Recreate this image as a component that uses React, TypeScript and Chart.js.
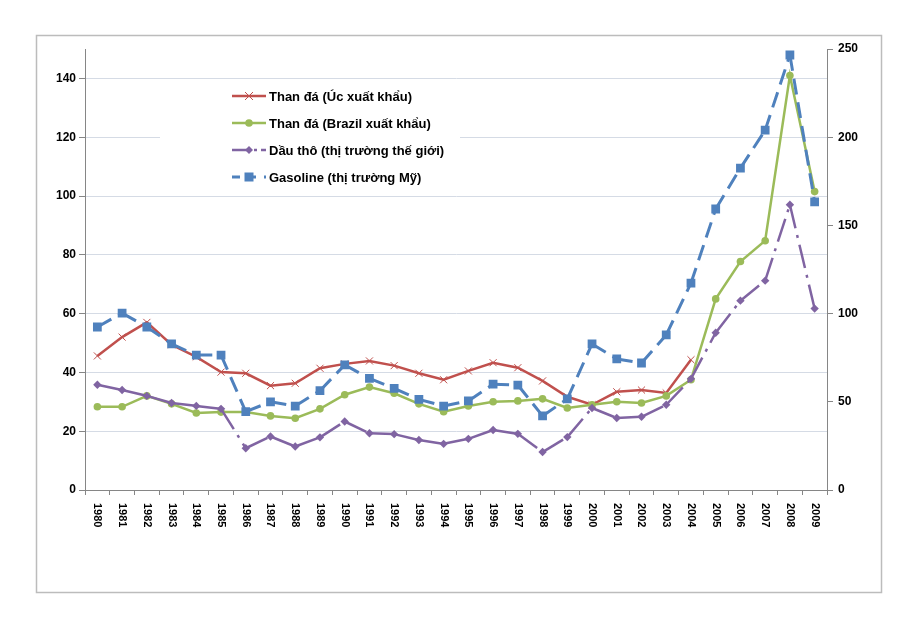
import { useEffect, useRef } from "react";
import { Chart, registerables } from "chart.js";

Chart.register(...registerables);

const years = [
  "1980", "1981", "1982", "1983", "1984", "1985", "1986", "1987", "1988", "1989",
  "1990", "1991", "1992", "1993", "1994", "1995", "1996", "1997", "1998", "1999",
  "2000", "2001", "2002", "2003", "2004", "2005", "2006", "2007", "2008", "2009",
];

// Than đá (Úc xuất khẩu) - left axis
const coalAus = [
  45.6, 52, 57, 49.4, 45.3, 40.1, 39.7, 35.5, 36.3, 41.4,
  42.9, 43.9, 42.3, 39.7, 37.5, 40.5, 43.3, 41.6, 37.1, 31.7,
  29, 33.4, 34, 33, 44.3, null, null, null, null, null,
];

// Than đá (Brazil xuất khẩu) - left axis
const coalBrazil = [
  28.3, 28.3, 32, 29.3, 26.2, 26.5, 26.5, 25.2, 24.4, 27.6,
  32.4, 35, 32.9, 29.3, 26.6, 28.6, 30, 30.3, 31, 27.9,
  29, 30, 29.6, 32, 37.5, 65, 77.7, 84.8, 141, 101.5,
];

// Dầu thô (thị trường thế giới) - left axis
const crudeOil = [
  35.8, 34, 32, 29.6, 28.6, 27.6, 14.2, 18.2, 14.8, 17.9,
  23.3, 19.3, 19, 17, 15.7, 17.4, 20.4, 19.1, 12.9, 18,
  27.9, 24.5, 24.9, 29, 37.8, 53.5, 64.4, 71.2, 97, 61.7,
];

// Gasoline (thị trường Mỹ) - right axis
const gasoline = [
  92.4, 100.3, 92.4, 82.8, 76.5, 76.5, 44.4, 50, 47.6, 56.3,
  70.9, 63.3, 57.6, 51.4, 47.6, 50.5, 60, 59.5, 42, 51.6,
  82.8, 74.3, 72, 87.9, 117.3, 159.3, 182.5, 204, 246.6, 163.3,
];

const seriesNames = [
  "Than đá (Úc xuất khẩu)",
  "Than đá (Brazil xuất khẩu)",
  "Dầu thô (thị trường thế giới)",
  "Gasoline (thị trường Mỹ)",
];

const RED = "#c0504d";
const GREEN = "#9bbb59";
const PURPLE = "#8064a2";
const BLUE = "#4f81bd";
const AXIS = "#868686";
const GRID = "#d5dbe5";

// restart the dash pattern at every point, like the original
const restartDash = {
  borderDashOffset: (c: any) => (c.p0DataIndex % 2 ? 0.01 : 0),
};

const frameAndLabels = {
  id: "frameAndLabels",
  beforeDraw(chart: any) {
    const ctx = chart.ctx;
    ctx.save();
    ctx.fillStyle = "#ffffff";
    ctx.fillRect(0, 0, chart.width, chart.height);
    ctx.strokeStyle = "#bcbcbc";
    ctx.lineWidth = 1.5;
    ctx.strokeRect(36.5, 35.5, 845, 557);
    ctx.restore();
  },
  afterDraw(chart: any) {
    const ctx = chart.ctx;
    const xs = chart.scales.x;
    const area = chart.chartArea;
    ctx.save();
    // rotated year labels
    ctx.fillStyle = "#000";
    ctx.font = "bold 11px 'Liberation Sans', Arial, sans-serif";
    ctx.textAlign = "left";
    ctx.textBaseline = "middle";
    years.forEach((y, i) => {
      const px = xs.getPixelForValue(i);
      ctx.save();
      ctx.translate(px, area.bottom + 13);
      ctx.rotate(Math.PI / 2);
      ctx.fillText(y, 0, 0);
      ctx.restore();
    });

    // legend
    const lx = 160;
    const ly = 82;
    ctx.fillStyle = "#ffffff";
    ctx.fillRect(lx, ly, 300, 110);
    const styles = [
      { color: RED, dash: [], marker: "x" },
      { color: GREEN, dash: [], marker: "circle" },
      { color: PURPLE, dash: [18, 4, 3, 4, 6, 10], marker: "diamond" },
      { color: BLUE, dash: [8, 8], marker: "square" },
    ];
    styles.forEach((s, i) => {
      const yy = 96 + i * 27;
      ctx.strokeStyle = s.color;
      ctx.lineWidth = s.marker === "square" ? 3 : 2.5;
      ctx.setLineDash(s.dash);
      ctx.beginPath();
      ctx.moveTo(232, yy);
      ctx.lineTo(266, yy);
      ctx.stroke();
      ctx.setLineDash([]);
      const cx = 249;
      ctx.fillStyle = s.color;
      if (s.marker === "x") {
        ctx.lineWidth = 1;
        ctx.beginPath();
        ctx.moveTo(cx - 4, yy - 4);
        ctx.lineTo(cx + 4, yy + 4);
        ctx.moveTo(cx - 4, yy + 4);
        ctx.lineTo(cx + 4, yy - 4);
        ctx.stroke();
      } else if (s.marker === "circle") {
        ctx.beginPath();
        ctx.arc(cx, yy, 3.8, 0, Math.PI * 2);
        ctx.fill();
      } else if (s.marker === "diamond") {
        ctx.beginPath();
        ctx.moveTo(cx, yy - 4);
        ctx.lineTo(cx + 4, yy);
        ctx.lineTo(cx, yy + 4);
        ctx.lineTo(cx - 4, yy);
        ctx.closePath();
        ctx.fill();
      } else {
        ctx.fillRect(cx - 4.5, yy - 4.5, 9, 9);
      }
      ctx.fillStyle = "#000";
      ctx.font = "bold 13px 'Liberation Sans', Arial, sans-serif";
      ctx.textAlign = "left";
      ctx.textBaseline = "middle";
      ctx.fillText(seriesNames[i], 269, yy + 1);
    });
    ctx.restore();
  },
};

const App: React.FC = () => {
  const chartRef = useRef<HTMLCanvasElement>(null);

  useEffect(() => {
    if (!chartRef.current) return;
    const ctx = chartRef.current.getContext("2d");
    if (!ctx) return;

    const tickFont = { family: "'Liberation Sans', Arial, sans-serif", size: 12, weight: "bold" as const };

    const chart = new Chart(ctx, {
      type: "line",
      data: {
        labels: years,
        datasets: [
          {
            label: seriesNames[0],
            data: coalAus,
            yAxisID: "y",
            borderColor: RED,
            backgroundColor: RED,
            borderWidth: 2.5,
            pointStyle: "crossRot",
            pointRadius: 5,
            pointBorderWidth: 1,
            order: 4,
          },
          {
            label: seriesNames[1],
            data: coalBrazil,
            yAxisID: "y",
            borderColor: GREEN,
            backgroundColor: GREEN,
            borderWidth: 2.5,
            pointStyle: "circle",
            pointRadius: 3.8,
            pointBorderWidth: 0,
            order: 3,
          },
          {
            label: seriesNames[2],
            data: crudeOil,
            yAxisID: "y",
            borderColor: PURPLE,
            backgroundColor: PURPLE,
            borderWidth: 2.5,
            borderDash: [24, 7, 3, 7],
            segment: restartDash,
            pointStyle: "rectRot",
            pointRadius: 4.2,
            pointBorderWidth: 0,
            order: 2,
          },
          {
            label: seriesNames[3],
            data: gasoline,
            yAxisID: "y1",
            borderColor: BLUE,
            backgroundColor: BLUE,
            borderWidth: 3,
            borderDash: [16, 8],
            segment: restartDash,
            pointStyle: "rect",
            pointRadius: 6.2,
            pointBorderWidth: 0,
            order: 1,
          },
        ],
      },
      options: {
        animation: false,
        responsive: true,
        maintainAspectRatio: false,
        layout: { padding: { left: 40, right: 40, top: 49, bottom: 0 } },
        plugins: {
          legend: { display: false },
          tooltip: { enabled: false },
        },
        scales: {
          x: {
            offset: true,
            ticks: { display: false },
            grid: {
              offset: true,
              drawOnChartArea: false,
              drawTicks: true,
              tickLength: 5,
              tickColor: AXIS,
            },
            border: { color: AXIS, width: 1 },
            afterFit: (s: any) => {
              s.height = 145;
            },
          },
          y: {
            position: "left",
            min: 0,
            max: 150,
            ticks: {
              stepSize: 20,
              includeBounds: false,
              color: "#000",
              font: tickFont,
              padding: 3,
            },
            grid: {
              color: GRID,
              lineWidth: 1,
              tickLength: 6,
              tickColor: AXIS,
              drawTicks: true,
            },
            border: { color: AXIS, width: 1 },
            afterFit: (s: any) => {
              s.width = 45;
            },
          },
          y1: {
            position: "right",
            min: 0,
            max: 250,
            ticks: {
              stepSize: 50,
              color: "#000",
              font: tickFont,
              padding: 5,
            },
            grid: {
              drawOnChartArea: false,
              tickLength: 6,
              tickColor: AXIS,
            },
            border: { color: AXIS, width: 1 },
            afterFit: (s: any) => {
              s.width = 47;
            },
          },
        },
      },
      plugins: [frameAndLabels],
    });

    return () => {
      chart.destroy();
    };
  }, []);

  return (
    <div style={{ position: "fixed", left: 0, top: 0, width: 914, height: 635, background: "#fff" }}>
      <canvas ref={chartRef}></canvas>
    </div>
  );
};

export default App;
